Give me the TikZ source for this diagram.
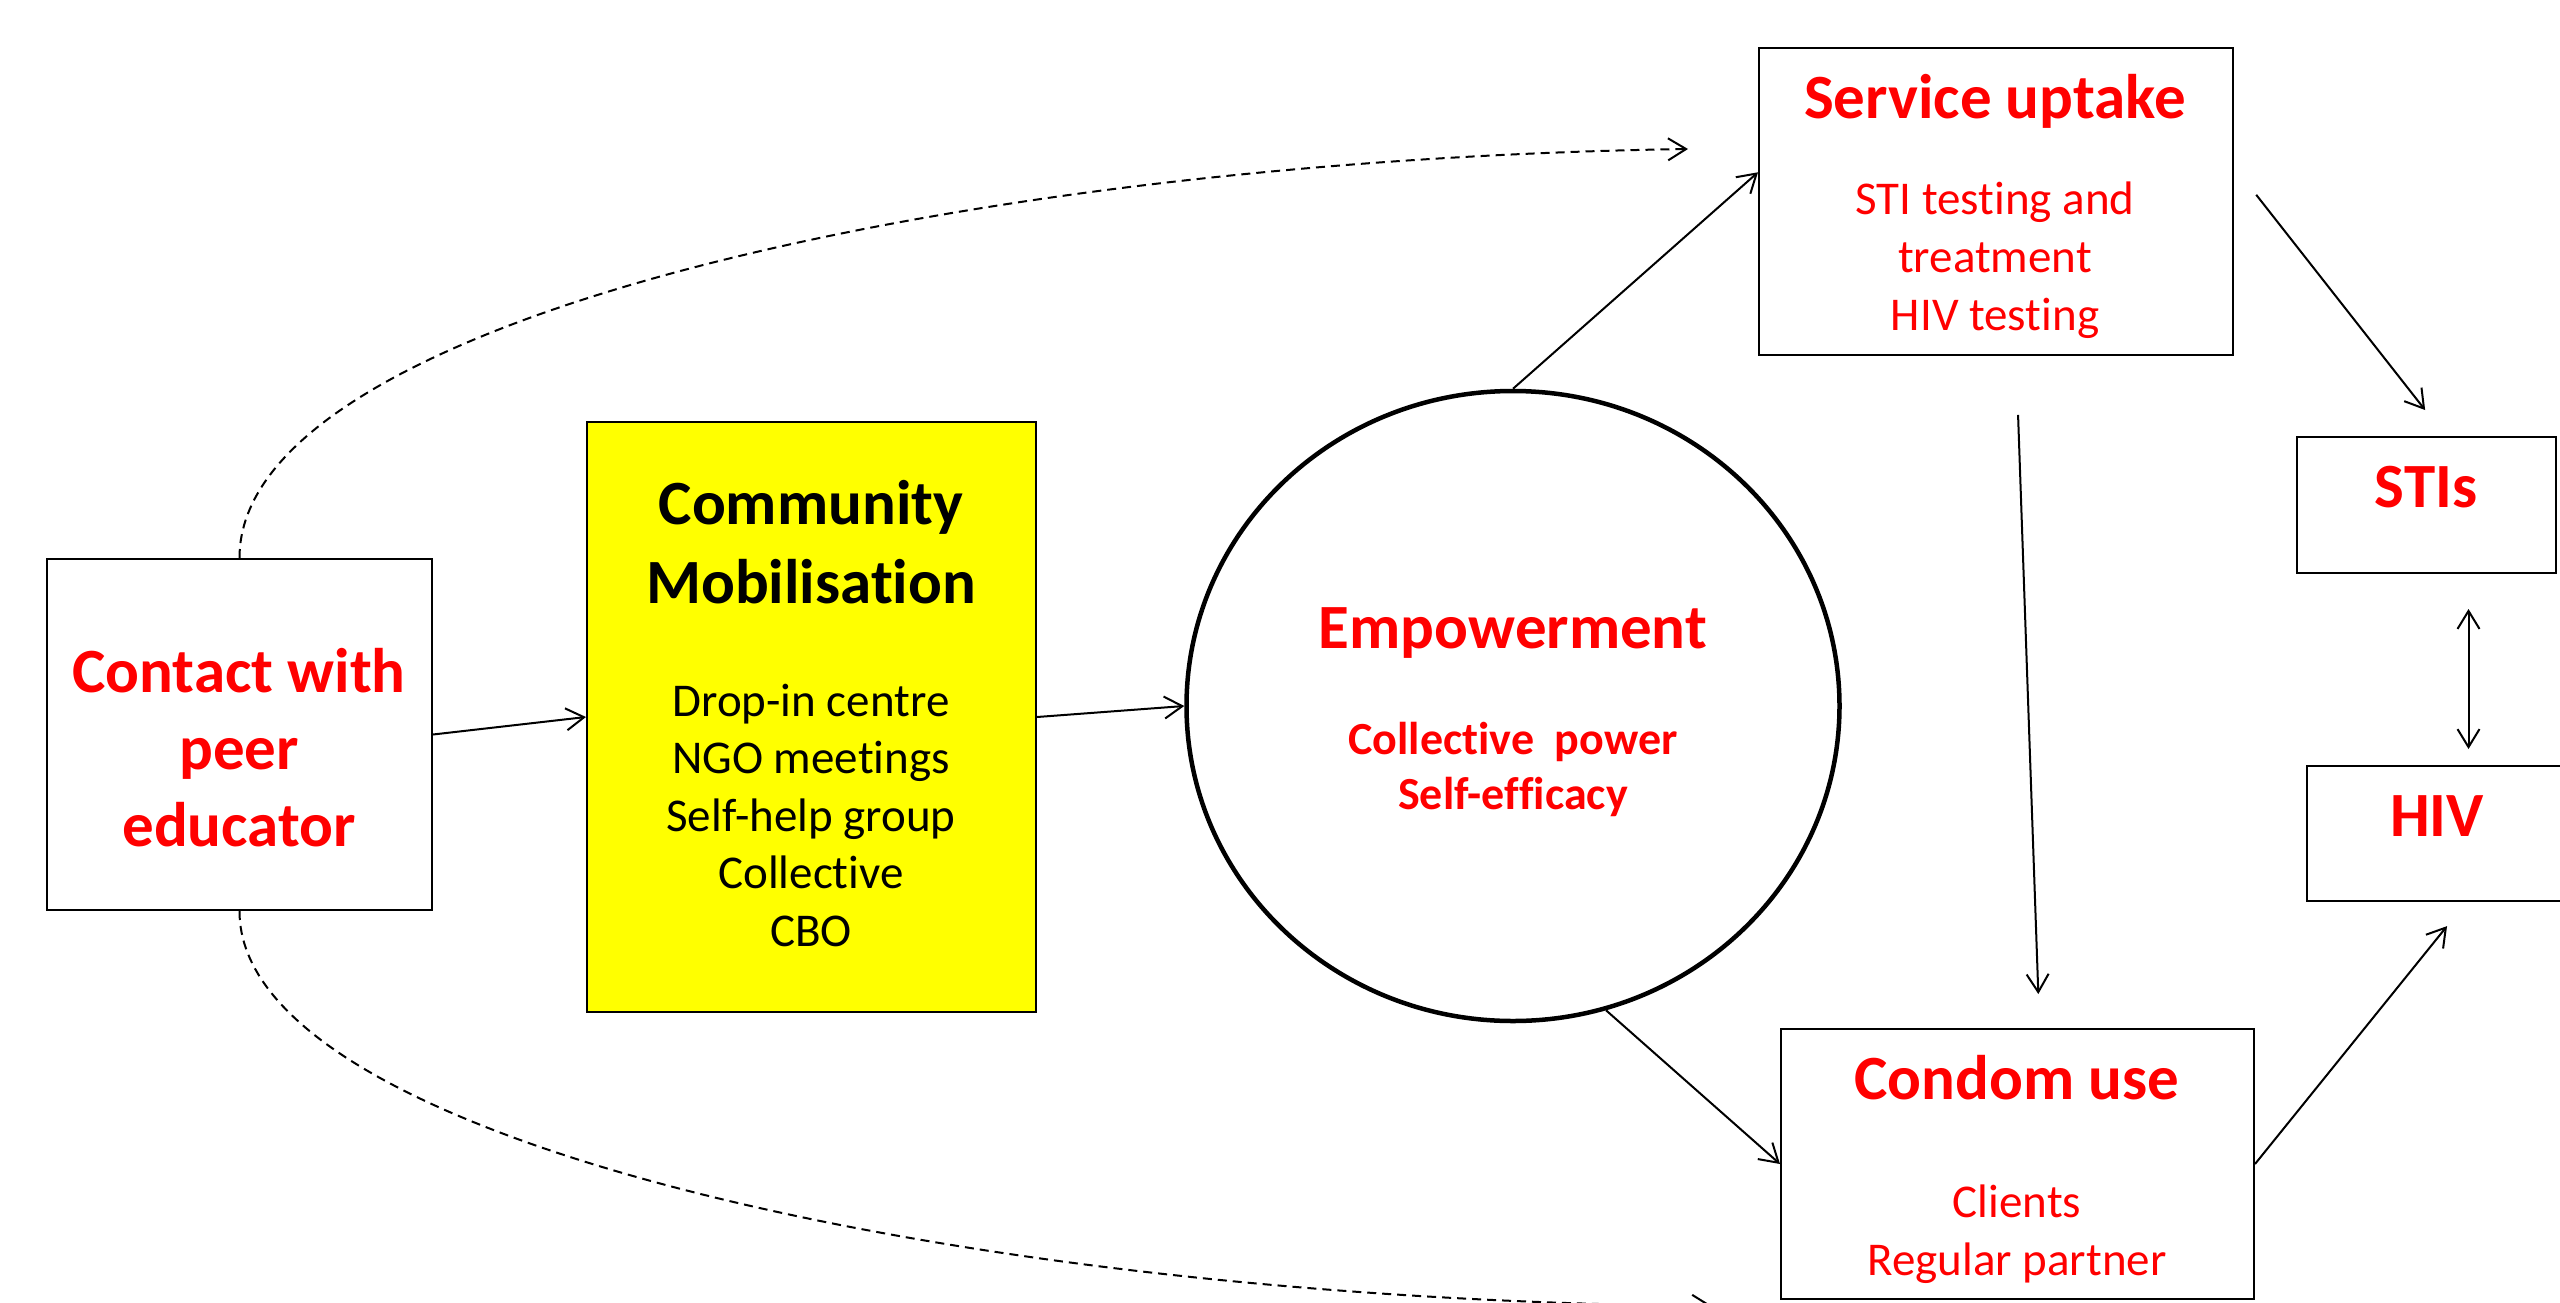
\documentclass[tikz,border=0pt]{standalone}
\usepackage{fontspec}
\setmainfont{Carlito}[Ligatures=NoCommon]
\usetikzlibrary{arrows.meta, shapes.geometric}
\definecolor{cmyellow}{RGB}{255,255,0}
\definecolor{cmred}{RGB}{255,0,0}

\begin{document}
\begin{tikzpicture}[x=1pt, y=-1pt,
    >={Straight Barb[length=18pt, width=22pt]},
    box/.style={draw, line width=2pt, inner sep=0pt},
    title/.style={text=cmred, font=\fontsize{63}{77}\selectfont\bfseries, align=center, anchor=base},
    item/.style={text=cmred, font=\fontsize{47}{58}\selectfont, align=center, anchor=base},
    arr/.style={->, line width=2pt},
    dashlink/.style={->, line width=2pt, dash pattern=on 9pt off 6pt}]
    \useasboundingbox (0,0) rectangle (2560,1302);

    % boxes
    \node[box, minimum width=385pt, minimum height=351pt] (contact) at (239.5, 734.5) {};
    \node[box, fill=cmyellow, minimum width=449pt, minimum height=590pt] (community) at (811.5, 717) {};
    \node[ellipse, draw, line width=4.5pt, inner sep=0pt, minimum width=653pt, minimum height=630pt] (emp) at (1513, 706) {};
    \node[box, minimum width=474pt, minimum height=307pt] (service) at (1996, 201.5) {};
    \node[box, minimum width=259pt, minimum height=136pt] (stis) at (2426.5, 505) {};
    \node[box, minimum width=259pt, minimum height=135pt] (hiv) at (2436.5, 833.5) {};
    \node[box, minimum width=473pt, minimum height=270pt] (condom) at (2017.5, 1164) {};

    % texts (base = last line)
    \node[title] (contact-t) at (239, 846) {Contact with\\peer\\educator};
    \node[title, text=black, font=\fontsize{63}{79}\selectfont\bfseries] (community-t) at (811, 603) {Community\\Mobilisation};
    \node[item, text=black, font=\fontsize{47}{57.5}\selectfont] (community-l) at (811, 946) {Drop-in centre\\NGO meetings\\Self-help group\\Collective\\CBO};
    \node[title] (emp-t) at (1513, 648) {Empowerment};
    \node[item, font=\fontsize{46}{55}\selectfont\bfseries] (emp-l) at (1513, 809) {Collective\ \ power\\Self-efficacy};
    \node[title] (service-t) at (1995, 118) {Service uptake};
    \node[item] (service-l) at (1995, 330) {STI testing and\\treatment\\HIV testing};
    \node[title] (stis-t) at (2426, 507) {STIs};
    \node[title] (hiv-t) at (2437, 836) {HIV};
    \node[title] (condom-t) at (2017, 1099) {Condom use};
    \node[item] (condom-l) at (2017, 1275) {Clients\\Regular partner};

    \coordinate (topend) at (1688, 149);
    \coordinate (botend) at (1712, 1306);

    % links
    \draw[arr] (contact.east) -- (community.west);
    \draw[arr] (community.east) -- (emp.west);
    \draw[arr] (emp.north) -- (service.173);
    \draw[arr] (emp.-73) -- (condom.west);
    \draw[arr, shorten <=59pt, shorten >=34pt] ([xshift=20pt]service.south) -- ([xshift=22pt]condom.north);
    \draw[arr, shorten <=36pt, shorten >=33pt] ([yshift=35pt]service.east) -- ([xshift=19pt]stis.north);
    \draw[<->, line width=2pt, shorten <=35pt, shorten >=16pt] ([xshift=42pt]stis.south) -- ([xshift=32pt]hiv.north);
    \draw[arr, shorten >=31pt] (condom.east) -- ([xshift=30pt]hiv.south);

    \draw[dashlink] (contact.north) .. controls (239, 320) and (960, 160) .. (topend);
    \draw[dashlink] (contact.south) .. controls (239, 1140) and (960, 1300) .. (botend);
\end{tikzpicture}
\end{document}
